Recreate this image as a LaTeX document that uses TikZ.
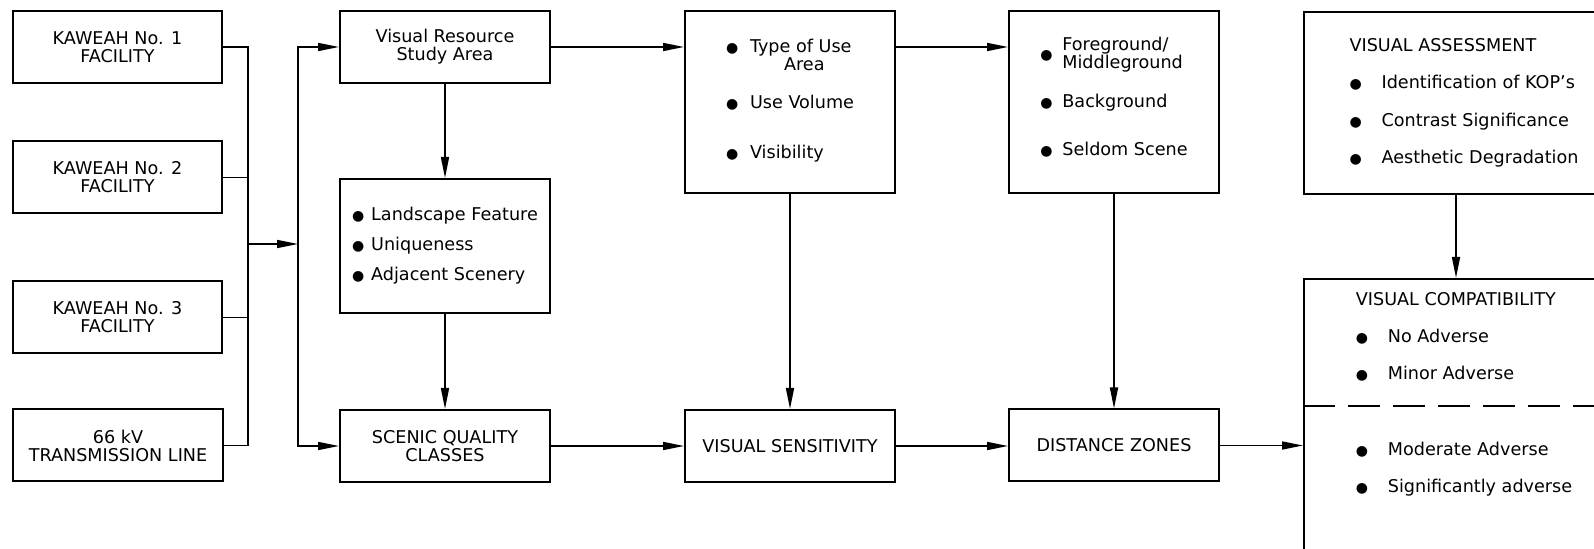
\documentclass[tikz,border=0pt]{standalone}
\usepackage{fontspec}
\setmainfont{DejaVu Sans}
\usetikzlibrary{arrows.meta,calc}
% bullet in a column of given width, optionally raised
\newcommand{\itembul}[2][0pt]{\makebox[#2][l]{\raisebox{#1}[0pt][0pt]{\fontsize{7}{7}\selectfont ●}}}

\begin{document}
\begin{tikzpicture}[x=0.5pt, y=-0.5pt, every node/.style={font=\fontsize{8.8}{9}\selectfont},
    box/.style={draw, line width=1pt, minimum width=105pt, minimum height=36pt, align=center, inner sep=0pt},
    arr/.style={line width=0.8pt, -{Triangle[length=10.5pt,width=4pt]}},
    wire/.style={line width=0.8pt}]
    \useasboundingbox (0,0) rectangle (1594,549);
    \clip (0,0) rectangle (1594,549);
    % sources
    \node[box, minimum width=104.5pt] (k1) at (117.5,47) {KAWEAH No. 1\\FACILITY};
    \node[box, minimum width=104.5pt] (k2) at (117.5,177.5) {KAWEAH No. 2\\FACILITY};
    \node[box, minimum width=104.5pt] (k3) at (117.5,317.5) {KAWEAH No. 3\\FACILITY};
    \node[box] (k4) at (118,445.5) {66 kV\\TRANSMISSION LINE};
    % scenic quality column
    \node[box] (vr) at (445,47) {Visual Resource\\Study Area};
    \node[box, minimum height=67pt, align=left] (land) at (445,246) {\itembul{9.5pt}Landscape Feature\\[6pt]\itembul{9.5pt}Uniqueness\\[6pt]\itembul{9.5pt}Adjacent Scenery};
    \node[box] (sq) at (445,446) {SCENIC QUALITY\\CLASSES};
    % sensitivity column
    \node[box, minimum height=91pt, align=left] (tu) at (790,102) {\itembul{12pt}Type of Use\\\hspace*{29pt}Area\\[10pt]\itembul{12pt}Use Volume\\[16pt]\itembul{12pt}Visibility\\[-6pt]\mbox{}};
    \node[box] (vs) at (790,446) {VISUAL SENSITIVITY};
    % distance column
    \node[box, minimum height=91pt, align=left] (fore) at (1114,102) {\itembul[-4.5pt]{11pt}Foreground/\\\hspace*{11pt}Middleground\\[10.5pt]\itembul{11pt}Background\\[15pt]\itembul{11pt}Seldom Scene\\[-3pt]\mbox{}};
    \node[box] (dist) at (1114,445.5) {DISTANCE ZONES};
    % assessment column
    \node[box, anchor=north west, minimum width=160pt, minimum height=91pt, align=left, inner xsep=22pt] (va) at (1303,11) {VISUAL ASSESSMENT\\[9.75pt]\itembul{16pt}Identification of KOP's\\[9.75pt]\itembul{16pt}Contrast Significance\\[9.75pt]\itembul{16pt}Aesthetic Degradation};
    \node[box, anchor=north west, minimum width=160pt, minimum height=0pt, align=left, inner xsep=22pt, inner ysep=6.5pt] (compat) at (1303,278) {VISUAL COMPATIBILITY\\[9.5pt]\itembul{16pt}No Adverse\\[9.5pt]\itembul{16pt}Minor Adverse\\[29pt]\itembul{16pt}Moderate Adverse\\[9.5pt]\itembul{16pt}Significantly adverse\\[30pt]\mbox{}};
    \draw[line width=1pt, dash pattern=on 16pt off 6.5pt] ([yshift=-64pt]compat.north west) -- ([yshift=-64pt]compat.north east);
    % connectors
    \coordinate (busin) at (248,244);
    \coordinate (busout) at (298,244);
    \foreach \k in {k1,k2,k3,k4}
        \draw[wire] (\k.east) -| (busin);
    \draw[arr] (busin) -- (busout);
    \draw[arr] (busout) |- (vr.west);
    \draw[arr] (busout) |- (sq.west);
    \draw[arr] (vr.south) -- (land.north);
    \draw[arr] (land.south) -- (sq.north);
    \draw[arr] (vr.east) -- (vr.east -| tu.west);
    \draw[arr] (vr.east -| tu.east) -- (vr.east -| fore.west);
    \draw[arr] (tu.south) -- (vs.north);
    \draw[arr] (fore.south) -- (dist.north);
    \draw[arr] ([xshift=76.5pt]va.south west) -- ([xshift=76.5pt]compat.north west);
    \draw[arr] (sq.east) -- (vs.west);
    \draw[arr] (vs.east) -- (vs.east -| dist.west);
    \draw[arr] (dist.east) -- (dist.east -| compat.west);
\end{tikzpicture}
\end{document}
